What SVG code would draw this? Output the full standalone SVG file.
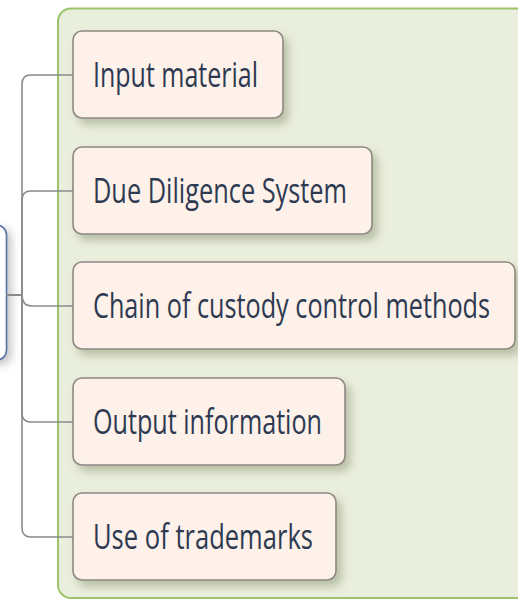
<svg xmlns="http://www.w3.org/2000/svg" width="518" height="600" viewBox="0 0 518 600">
  <defs>
    <filter id="shadow" x="-20%" y="-20%" width="140%" height="160%">
      <feDropShadow dx="5" dy="6" stdDeviation="4" flood-color="#5e6a45" flood-opacity="0.35"/>
    </filter>
    <filter id="shadowL" x="-50%" y="-20%" width="200%" height="140%">
      <feDropShadow dx="4" dy="4" stdDeviation="4" flood-color="#555" flood-opacity="0.35"/>
    </filter>
    <style>
      .node rect { fill: #fdf1e9; stroke: #8e8882; stroke-width: 1.6; filter: url(#shadow); }
      .node text { font-family: "Open Sans", "Liberation Sans", sans-serif; font-size: 34px; fill: #2e3a52; }
      .conn path { fill: none; stroke: #8a8a8a; stroke-width: 1.6; }
    </style>
  </defs>
  <rect width="518" height="600" fill="#ffffff"/>
  <g id="container">
    <rect x="58" y="8.5" width="500" height="589.5" rx="13" fill="#eaeedd" stroke="#9cc46a" stroke-width="2"/>
  </g>
  <g id="root">
    <rect x="-30" y="225" width="36.5" height="135" rx="10" fill="#ffffff" stroke="#5874a8" stroke-width="1.6" filter="url(#shadowL)"/>
  </g>
  <g id="connectors" class="conn">
    <path d="M6,295 H22 V84 Q22,75 31,75 H73"/>
    <path d="M6,295 H22 V200 Q22,191 31,191 H73"/>
    <path d="M6,295 H22 Q22,306 32,306 H73"/>
    <path d="M6,295 H22 V413 Q22,422 31,422 H73"/>
    <path d="M6,295 H22 V528 Q22,537 31,537 H73"/>
  </g>
  <g id="n1" class="node">
    <rect x="73" y="31" width="210" height="87" rx="9"/>
    <text x="93" y="87" textLength="165" lengthAdjust="spacingAndGlyphs">Input material</text>
  </g>
  <g id="n2" class="node">
    <rect x="73" y="147" width="299" height="87" rx="9"/>
    <text x="93" y="202.5" textLength="254" lengthAdjust="spacingAndGlyphs">Due Diligence System</text>
  </g>
  <g id="n3" class="node">
    <rect x="73" y="262" width="442" height="87" rx="9"/>
    <text x="93" y="318" textLength="397" lengthAdjust="spacingAndGlyphs">Chain of custody control methods</text>
  </g>
  <g id="n4" class="node">
    <rect x="73" y="378" width="272" height="87" rx="9"/>
    <text x="93" y="433.5" textLength="229" lengthAdjust="spacingAndGlyphs">Output information</text>
  </g>
  <g id="n5" class="node">
    <rect x="73" y="493" width="263" height="87" rx="9"/>
    <text x="93" y="549" textLength="220" lengthAdjust="spacingAndGlyphs">Use of trademarks</text>
  </g>
</svg>
